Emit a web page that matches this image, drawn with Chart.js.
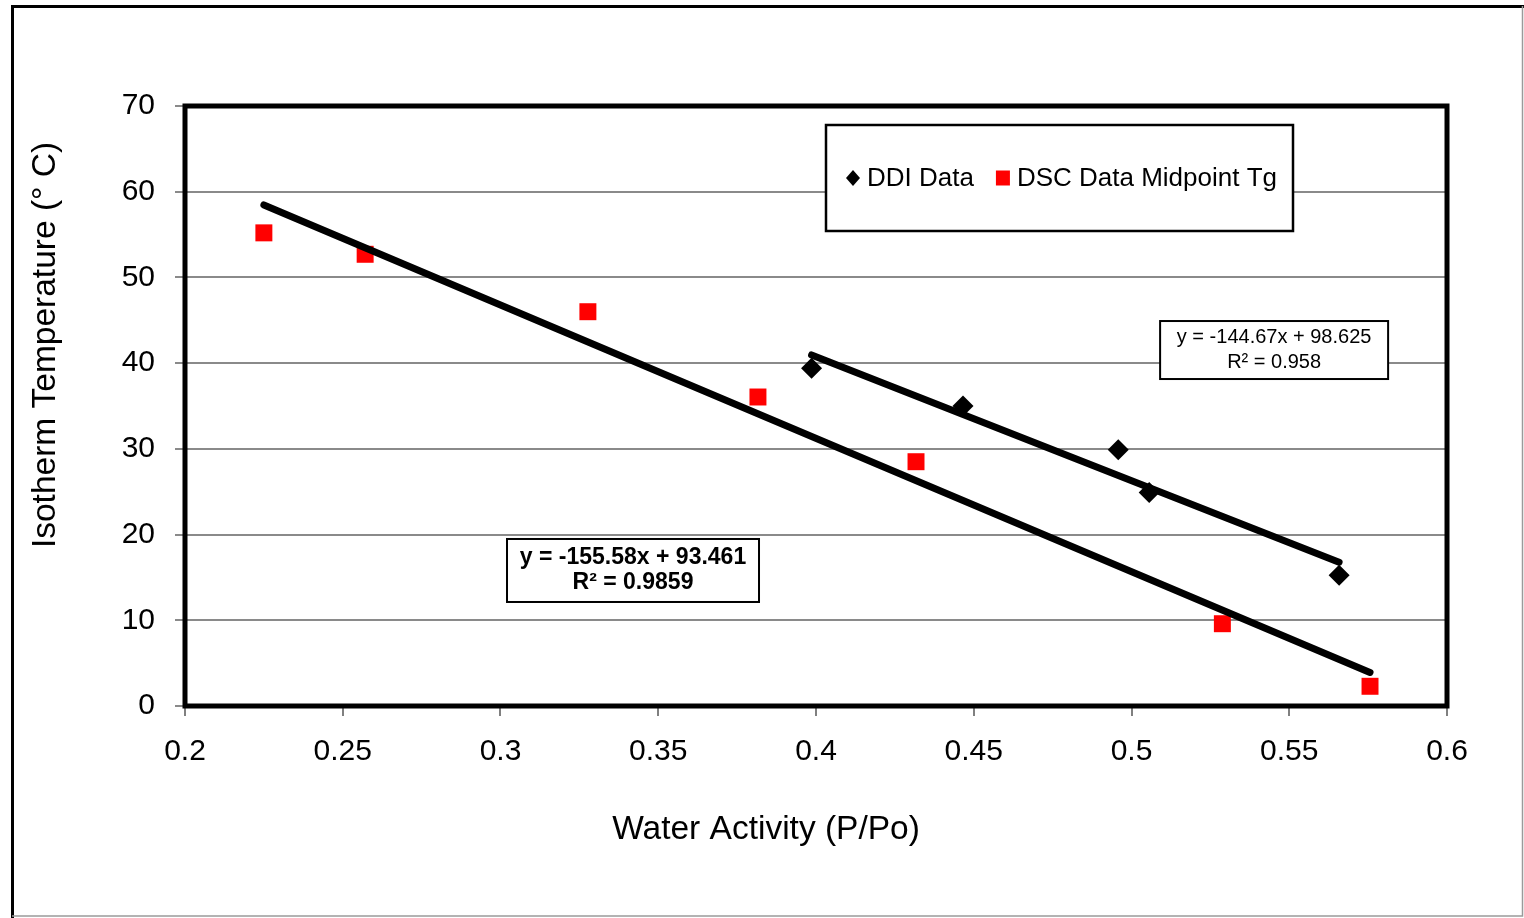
<!DOCTYPE html>
<html>
<head>
<meta charset="utf-8">
<script src="https://cdn.jsdelivr.net/npm/chart.js@4"></script>
<style>
  html, body { margin: 0; padding: 0; background: #fff; }
  canvas { display: block; }
</style>
</head>
<body>
<canvas id="chart" width="1524" height="918"></canvas>
<script>
// values
const ddiX = [0.3986, 0.4466, 0.4958, 0.5056, 0.5658];
const ddiY = [39.4, 35.0, 29.9, 24.9, 15.25];
const dscX = [0.2250, 0.2571, 0.3277, 0.3816, 0.4317, 0.5288, 0.5756];
const dscY = [55.2, 52.7, 46.0, 36.05, 28.5, 9.6, 2.3];
const seriesNames = ['DDI Data', 'DSC Data Midpoint Tg'];
// trendline equations as printed on the chart (DDI, DSC)
const fitSlope = [-144.67, -155.58];
const fitIntercept = [98.625, 93.461];
const fitR2 = [0.958, 0.9859];
const xTitle = 'Water Activity (P/Po)';
const yTitle = 'Isotherm Temperature (° C)';

const FONT = "'Liberation Sans', Arial, Helvetica, sans-serif";
Chart.defaults.font.family = FONT;
Chart.defaults.color = '#000';

const toPoints = (xs, ys) => xs.map((x, i) => ({x: x, y: ys[i]}));
const fitLine = (xs, i) => {
  const lo = Math.min(...xs), hi = Math.max(...xs);
  return [lo, hi].map(x => ({x: x, y: fitSlope[i] * x + fitIntercept[i]}));
};

// white page, outer frame and the heavy plot-area border
const frame = {
  id: 'frame',
  beforeDraw(chart) {
    const ctx = chart.ctx, w = chart.width, h = chart.height;
    ctx.save();
    ctx.fillStyle = '#fff';
    ctx.fillRect(0, 0, w, h);
    ctx.strokeStyle = '#000';
    ctx.lineWidth = 3;
    ctx.beginPath();
    ctx.moveTo(w, 6.5); ctx.lineTo(12.5, 6.5); ctx.lineTo(12.5, h);
    ctx.stroke();
    ctx.strokeStyle = '#9a9a9a';
    ctx.lineWidth = 1.5;
    ctx.beginPath();
    ctx.moveTo(12, 916); ctx.lineTo(w - 1.5, 916); ctx.lineTo(w - 1.5, 6);
    ctx.stroke();
    ctx.restore();
  },
  beforeDatasetsDraw(chart) {
    const ctx = chart.ctx, a = chart.chartArea;
    ctx.save();
    ctx.strokeStyle = '#000';
    ctx.lineWidth = 5;
    ctx.strokeRect(a.left, a.top, a.right - a.left, a.bottom - a.top);
    ctx.restore();
  }
};

// axis titles (they sit off-centre in the original, so placed by hand)
const axisTitles = {
  id: 'axisTitles',
  afterDraw(chart) {
    const ctx = chart.ctx;
    ctx.save();
    ctx.fillStyle = '#000';
    ctx.font = '33.5px ' + FONT;
    ctx.textAlign = 'center';
    ctx.textBaseline = 'middle';
    ctx.fillText(xTitle, 766, 830);
    ctx.translate(46, 345);
    ctx.rotate(-Math.PI / 2);
    ctx.fillText(yTitle, 0, 0);
    ctx.restore();
  }
};

function box(ctx, x, y, w, h, lw) {
  ctx.fillStyle = '#fff';
  ctx.fillRect(x, y, w, h);
  ctx.strokeStyle = '#000';
  ctx.lineWidth = lw;
  ctx.strokeRect(x, y, w, h);
}

// legend box inside the plot
const legendBox = {
  id: 'legendBox',
  afterDraw(chart) {
    const ctx = chart.ctx;
    const L = {left: 826, top: 125, width: 467, height: 106};
    ctx.save();
    box(ctx, L.left, L.top, L.width, L.height, 2.5);
    const cy = L.top + L.height / 2;
    ctx.font = '26px ' + FONT;
    ctx.textBaseline = 'middle';
    let x = 853;
    chart.data.datasets.filter(d => !d.showLine).forEach(d => {
      ctx.fillStyle = d.backgroundColor;
      ctx.beginPath();
      if (d.pointStyle === 'rectRot') {
        ctx.moveTo(x, cy - 8); ctx.lineTo(x + 7, cy); ctx.lineTo(x, cy + 8); ctx.lineTo(x - 7, cy);
        ctx.closePath();
      } else {
        ctx.rect(x - 7, cy - 7.5, 14, 15);
      }
      ctx.fill();
      ctx.fillStyle = '#000';
      ctx.fillText(d.label, x + 14, cy + 1);
      x += 14 + ctx.measureText(d.label).width + 29;
    });
    ctx.restore();
  }
};

// trendline equation labels
const eqLabels = {
  id: 'eqLabels',
  afterDraw(chart) {
    const ctx = chart.ctx, sx = chart.scales.x, sy = chart.scales.y;
    const specs = [
      {i: 0, at: [0.5452, 41.53], w: 228, h: 58, gap: 25, font: '20px ' + FONT},
      {i: 1, at: [0.3420, 15.81], w: 252, h: 63, gap: 25, font: 'bold 23px ' + FONT}
    ];
    ctx.save();
    specs.forEach(s => {
      const cx = sx.getPixelForValue(s.at[0]);
      const cy = sy.getPixelForValue(s.at[1]);
      box(ctx, cx - s.w / 2, cy - s.h / 2, s.w, s.h, 2);
      ctx.fillStyle = '#000';
      ctx.font = s.font;
      ctx.textAlign = 'center';
      ctx.textBaseline = 'middle';
      ctx.fillText('y = ' + fitSlope[s.i] + 'x + ' + fitIntercept[s.i], cx, cy - s.gap / 2);
      ctx.fillText('R\u00b2 = ' + fitR2[s.i], cx, cy + s.gap / 2);
    });
    ctx.restore();
  }
};

new Chart(document.getElementById('chart'), {
  type: 'scatter',
  data: {
    datasets: [
      {
        label: 'DDI trend',
        data: fitLine(ddiX, 0),
        showLine: true,
        borderColor: '#000',
        borderWidth: 7,
        borderCapStyle: 'round',
        pointRadius: 0,
        order: 0
      },
      {
        label: 'DSC trend',
        data: fitLine(dscX, 1),
        showLine: true,
        borderColor: '#000',
        borderWidth: 7,
        borderCapStyle: 'round',
        pointRadius: 0,
        order: 0
      },
      {
        label: seriesNames[0],
        data: toPoints(ddiX, ddiY),
        pointStyle: 'rectRot',
        pointRadius: 10.5,
        backgroundColor: '#000',
        borderWidth: 0,
        order: 1
      },
      {
        label: seriesNames[1],
        data: toPoints(dscX, dscY),
        pointStyle: 'rect',
        pointRadius: 12,
        backgroundColor: '#ff0000',
        borderWidth: 0,
        order: 1
      }
    ]
  },
  options: {
    responsive: false,
    animation: false,
    events: [],
    layout: {
      padding: {left: 0, top: 106, right: 77, bottom: 0}
    },
    plugins: {
      legend: {display: false},
      tooltip: {enabled: false}
    },
    scales: {
      x: {
        type: 'linear',
        min: 0.2,
        max: 0.6,
        afterFit: s => { s.height = 212; },
        ticks: {
          stepSize: 0.05,
          padding: 18,
          color: '#000',
          font: {size: 30},
          callback: v => String(+v.toFixed(2))
        },
        grid: {
          drawOnChartArea: false,
          drawTicks: true,
          tickLength: 10,
          color: '#808080',
          lineWidth: 2
        },
        border: {display: false},
        title: {display: false}
      },
      y: {
        min: 0,
        max: 70,
        afterFit: s => { s.width = 185; },
        ticks: {
          stepSize: 10,
          padding: 20,
          color: '#000',
          font: {size: 30}
        },
        grid: {
          color: '#8a8a8a',
          lineWidth: 2,
          tickLength: 10
        },
        border: {display: false},
        title: {display: false}
      }
    }
  },
  plugins: [frame, axisTitles, legendBox, eqLabels]
});
</script>
</body>
</html>
